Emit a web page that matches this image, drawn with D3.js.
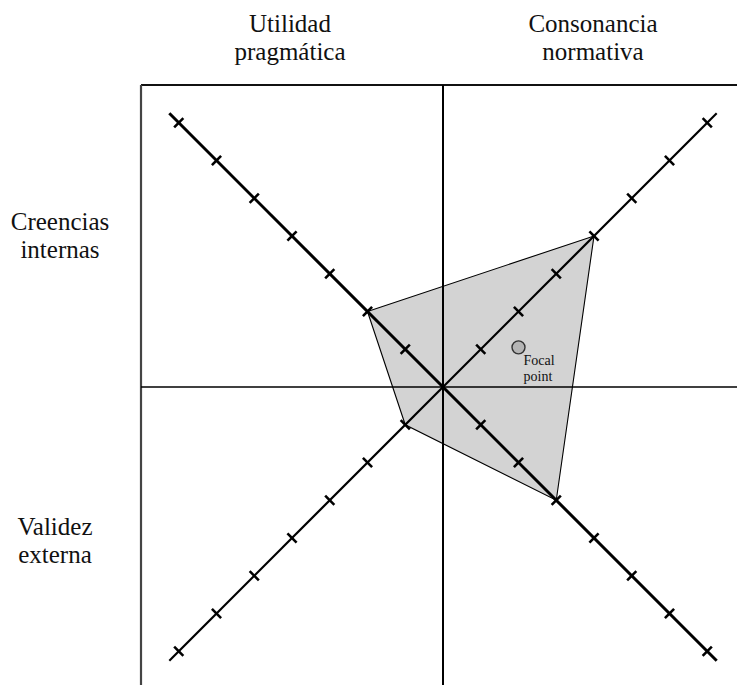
<!DOCTYPE html>
<html><head><meta charset="utf-8">
<script src="https://cdn.jsdelivr.net/npm/d3@7"></script>
<style>html,body{margin:0;padding:0;background:#fff;}svg{display:block;}</style>
</head><body>
<script>
// Data
const topLabels = [["Utilidad", "pragmática"], ["Consonancia", "normativa"]];
const sideLabels = [["Creencias", "internas"], ["Validez", "externa"]];
const diagonals = ["NW", "NE", "SE", "SW"];
const diagDir = {NW: [-1, 1], NE: [1, 1], SE: [1, -1], SW: [-1, -1]};
const profileValues = [2, 4, 3, 1];
const tickValues = [1, 2, 3, 4, 5, 6, 7];
const axisExtent = 7.25;
const focalPoint = {x: 2.0, y: 1.05, label: ["Focal", "point"]};

const W = 737, H = 685;
const svg = d3.select("body").append("svg").attr("width", W).attr("height", H);
const x = d3.scaleLinear().domain([-8, 8]).range([141, 745]);
const y = d3.scaleLinear().domain([-8, 8]).range([689, 85]);
const font = "'Liberation Serif','Times New Roman',serif";

// polygon
const pts = diagonals.map((d, i) => [x(diagDir[d][0] * profileValues[i]), y(diagDir[d][1] * profileValues[i])]);
svg.append("polygon").attr("points", pts.map(p => p.join(",")).join(" "))
  .attr("fill", "#d3d3d3").attr("stroke", "#000").attr("stroke-width", 1.1);

// frame
svg.append("line").attr("x1", x(-8)).attr("x2", W).attr("y1", y(8)).attr("y2", y(8)).attr("stroke", "#111").attr("stroke-width", 2);
svg.append("line").attr("x1", x(-8)).attr("x2", x(-8)).attr("y1", y(8)).attr("y2", H).attr("stroke", "#444").attr("stroke-width", 2.2);
svg.append("line").attr("x1", x(0)).attr("x2", x(0)).attr("y1", y(8)).attr("y2", H).attr("stroke", "#000").attr("stroke-width", 2);
svg.append("line").attr("x1", x(-8)).attr("x2", W).attr("y1", y(0)).attr("y2", y(0)).attr("stroke", "#000").attr("stroke-width", 1.6);

// diagonals
const diagWidth = {NW: 3, SE: 3, NE: 2.2, SW: 2.2};
diagonals.forEach(d => {
  const [dx, dy] = diagDir[d];
  svg.append("line").attr("x1", x(0)).attr("y1", y(0))
    .attr("x2", x(dx * axisExtent)).attr("y2", y(dy * axisExtent))
    .attr("stroke", "#000").attr("stroke-width", diagWidth[d]).attr("stroke-linecap", "butt");
  const sx = dx, sy = -dy;
  const px = -sy / Math.SQRT2 * 6.5, py = sx / Math.SQRT2 * 6.5;
  tickValues.forEach(t => {
    const cx = x(dx * t), cy = y(dy * t);
    svg.append("line").attr("x1", cx - px).attr("y1", cy - py).attr("x2", cx + px).attr("y2", cy + py)
      .attr("stroke", "#000").attr("stroke-width", 2.6);
  });
});

// focal point
svg.append("circle").attr("cx", x(focalPoint.x)).attr("cy", y(focalPoint.y)).attr("r", 6.5)
  .attr("fill", "#b5b5b5").attr("stroke", "#333").attr("stroke-width", 1.4);
const ft = svg.append("text").attr("font-family", font).attr("font-size", 14).attr("fill", "#111");
focalPoint.label.forEach((s, i) => ft.append("tspan").attr("x", x(focalPoint.x) + 5).attr("y", y(focalPoint.y) + 18 + i * 16).text(s));

// labels
const topX = [290, 593];
topLabels.forEach((lines, i) => {
  const t = svg.append("text").attr("font-family", font).attr("font-size", 25).attr("text-anchor", "middle").attr("fill", "#111");
  lines.forEach((s, j) => t.append("tspan").attr("x", topX[i]).attr("y", 32 + j * 28).text(s));
});
const sideY = [230, 535];
sideLabels.forEach((lines, i) => {
  const t = svg.append("text").attr("font-family", font).attr("font-size", 25).attr("text-anchor", "middle").attr("fill", "#111");
  lines.forEach((s, j) => t.append("tspan").attr("x", i === 0 ? 60 : 55).attr("y", sideY[i] + j * 28).text(s));
});
</script>
</body></html>
